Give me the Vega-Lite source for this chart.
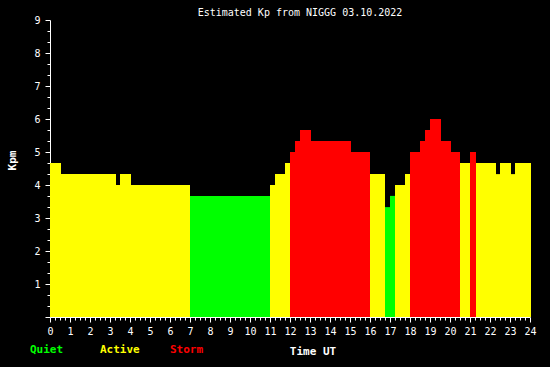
{
  "$schema": "https://vega.github.io/schema/vega-lite/v6.json",
  "width": 480,
  "height": 297,
  "autosize": "none",
  "padding": {"left": 50, "top": 20, "right": 20, "bottom": 50},
  "background": "#000000",
  "title": {
    "text": "Estimated Kp from NIGGG 03.10.2022",
    "font": "DejaVu Sans Mono",
    "fontSize": 10,
    "fontWeight": "normal",
    "color": "#ffffff",
    "anchor": "middle",
    "frame": "group",
    "dx": 10,
    "offset": -3
  },
  "data": {
    "values": [
      {"start": 0, "end": 0.55, "kp": 4.67, "level": "Active"},
      {"start": 0.55, "end": 3.3, "kp": 4.33, "level": "Active"},
      {"start": 3.3, "end": 3.5, "kp": 4.0, "level": "Active"},
      {"start": 3.5, "end": 4.05, "kp": 4.33, "level": "Active"},
      {"start": 4.05, "end": 7.0, "kp": 4.0, "level": "Active"},
      {"start": 7.0, "end": 11.0, "kp": 3.67, "level": "Quiet"},
      {"start": 11.0, "end": 11.25, "kp": 4.0, "level": "Active"},
      {"start": 11.25, "end": 11.75, "kp": 4.33, "level": "Active"},
      {"start": 11.75, "end": 12.0, "kp": 4.67, "level": "Active"},
      {"start": 12.0, "end": 12.25, "kp": 5.0, "level": "Storm"},
      {"start": 12.25, "end": 12.5, "kp": 5.33, "level": "Storm"},
      {"start": 12.5, "end": 13.05, "kp": 5.67, "level": "Storm"},
      {"start": 13.05, "end": 15.05, "kp": 5.33, "level": "Storm"},
      {"start": 15.05, "end": 16.0, "kp": 5.0, "level": "Storm"},
      {"start": 16.0, "end": 16.75, "kp": 4.33, "level": "Active"},
      {"start": 16.75, "end": 17.0, "kp": 3.33, "level": "Quiet"},
      {"start": 17.0, "end": 17.25, "kp": 3.67, "level": "Quiet"},
      {"start": 17.25, "end": 17.75, "kp": 4.0, "level": "Active"},
      {"start": 17.75, "end": 18.0, "kp": 4.33, "level": "Active"},
      {"start": 18.0, "end": 18.5, "kp": 5.0, "level": "Storm"},
      {"start": 18.5, "end": 18.75, "kp": 5.33, "level": "Storm"},
      {"start": 18.75, "end": 19.0, "kp": 5.67, "level": "Storm"},
      {"start": 19.0, "end": 19.55, "kp": 6.0, "level": "Storm"},
      {"start": 19.55, "end": 20.05, "kp": 5.33, "level": "Storm"},
      {"start": 20.05, "end": 20.5, "kp": 5.0, "level": "Storm"},
      {"start": 20.5, "end": 21.0, "kp": 4.67, "level": "Active"},
      {"start": 21.0, "end": 21.3, "kp": 5.0, "level": "Storm"},
      {"start": 21.3, "end": 22.3, "kp": 4.67, "level": "Active"},
      {"start": 22.3, "end": 22.5, "kp": 4.33, "level": "Active"},
      {"start": 22.5, "end": 23.05, "kp": 4.67, "level": "Active"},
      {"start": 23.05, "end": 23.25, "kp": 4.33, "level": "Active"},
      {"start": 23.25, "end": 24.05, "kp": 4.67, "level": "Active"}
    ]
  },
  "mark": {"type": "rect", "strokeWidth": 0, "clip": false},
  "encoding": {
    "x": {
      "field": "start",
      "type": "quantitative",
      "scale": {"domain": [0, 24], "nice": false, "zero": false},
      "axis": {
        "values": [0,0.25,0.5,0.75,1,1.25,1.5,1.75,2,2.25,2.5,2.75,3,3.25,3.5,3.75,4,4.25,4.5,4.75,5,5.25,5.5,5.75,6,6.25,6.5,6.75,7,7.25,7.5,7.75,8,8.25,8.5,8.75,9,9.25,9.5,9.75,10,10.25,10.5,10.75,11,11.25,11.5,11.75,12,12.25,12.5,12.75,13,13.25,13.5,13.75,14,14.25,14.5,14.75,15,15.25,15.5,15.75,16,16.25,16.5,16.75,17,17.25,17.5,17.75,18,18.25,18.5,18.75,19,19.25,19.5,19.75,20,20.25,20.5,20.75,21,21.25,21.5,21.75,22,22.25,22.5,22.75,23,23.25,23.5,23.75,24],
        "labelExpr": "datum.value % 1 === 0 ? format(datum.value, 'd') : ''",
        "labelOverlap": false,
        "labelFlush": false,
        "labelPadding": 4,
        "tickSize": {"condition": {"test": "datum.value % 1 === 0", "value": 5}, "value": 3},
        "title": "Time UT",
        "titleX": 262.5,
        "titleY": 37,
        "titleAlign": "center",
        "titleBaseline": "alphabetic",
        "titleFontWeight": "bold",
        "titleFontSize": 11,
        "titleFont": "DejaVu Sans Mono",
        "titleColor": "#ffffff"
      }
    },
    "x2": {"field": "end"},
    "y": {
      "field": "kp",
      "type": "quantitative",
      "scale": {"domain": [0, 9], "nice": false},
      "axis": {
        "values": [0,0.3333333,0.6666667,1,1.3333333,1.6666667,2,2.3333333,2.6666667,3,3.3333333,3.6666667,4,4.3333333,4.6666667,5,5.3333333,5.6666667,6,6.3333333,6.6666667,7,7.3333333,7.6666667,8,8.3333333,8.6666667,9],
        "labelExpr": "datum.value % 1 === 0 && datum.value > 0 ? format(datum.value, 'd') : ''",
        "labelOverlap": false,
        "labelFlush": false,
        "labelPadding": 5,
        "tickSize": {"condition": {"test": "datum.value % 1 === 0", "value": 5}, "value": 3},
        "title": "Kpm",
        "titleX": -38,
        "titleY": 140,
        "titleAlign": "center",
        "titleBaseline": "middle",
        "titleAngle": -90,
        "titleFontWeight": "bold",
        "titleFontSize": 11,
        "titleFont": "DejaVu Sans Mono",
        "titleColor": "#ffffff"
      }
    },
    "y2": {"datum": 0},
    "color": {
      "field": "level",
      "type": "nominal",
      "scale": {"domain": ["Quiet", "Active", "Storm"], "range": ["#00ff00", "#ffff00", "#ff0000"]},
      "legend": {
        "orient": "none",
        "legendX": -31,
        "legendY": 324,
        "direction": "horizontal",
        "title": null,
        "symbolSize": 0,
        "symbolOpacity": 0,
        "symbolStrokeWidth": 0,
        "labelOffset": 0,
        "columnPadding": 19,
        "gridAlign": "all",
        "padding": 0,
        "labelFont": "DejaVu Sans Mono",
        "labelFontSize": 11,
        "labelFontWeight": "bold",
        "encode": {"labels": {"update": {"fill": {"scale": "color", "field": "value"}}}}
      }
    }
  },
  "config": {
    "view": {"stroke": null},
    "axis": {
      "grid": false,
      "domainColor": "#ffffff",
      "domainWidth": 1,
      "tickColor": "#ffffff",
      "tickWidth": 1,
      "labelColor": "#ffffff",
      "labelFont": "DejaVu Sans Mono",
      "labelFontSize": 10
    }
  }
}
